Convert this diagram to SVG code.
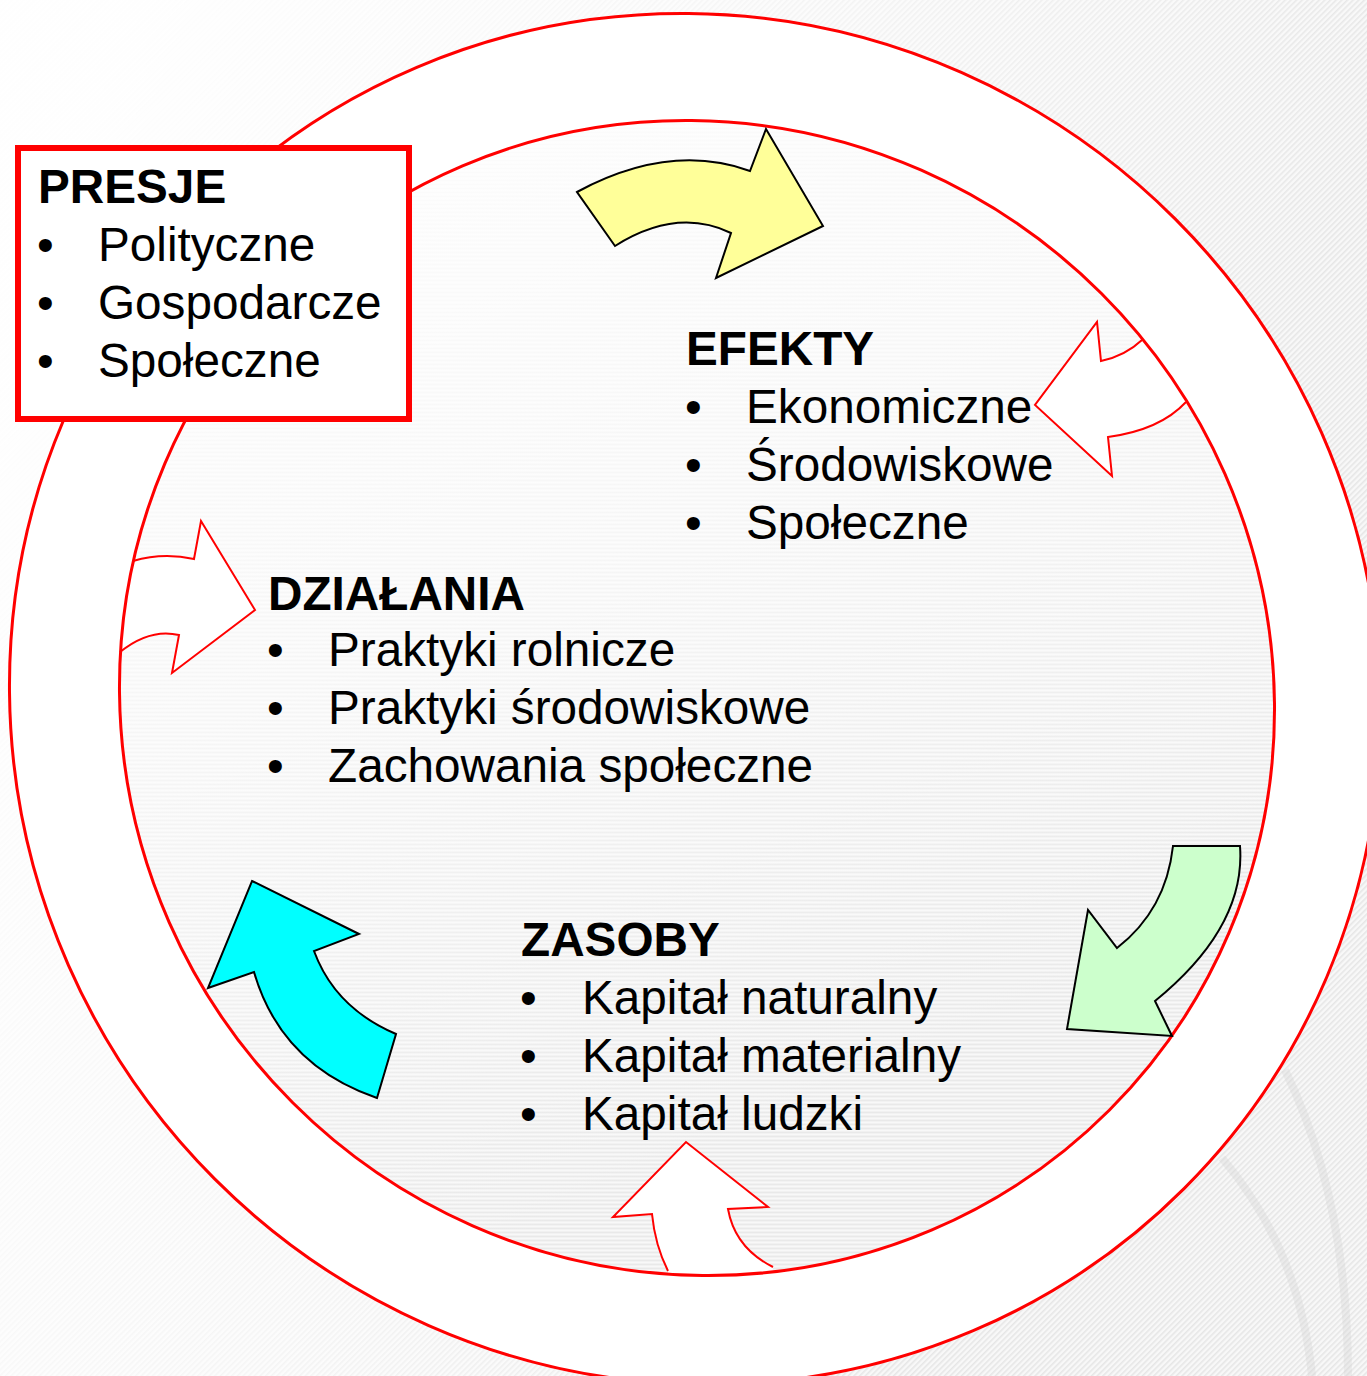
<svg xmlns="http://www.w3.org/2000/svg" width="1367" height="1376" viewBox="0 0 1367 1376">
<defs>
<pattern id="hatch" width="4" height="4" patternUnits="userSpaceOnUse" patternTransform="rotate(-45)">
<rect width="4" height="4" fill="#f8f8f8"/>
<rect width="4" height="1.6" fill="#e6e6e6"/>
</pattern>
<linearGradient id="fade" gradientUnits="userSpaceOnUse" x1="0" y1="300" x2="1150" y2="750">
<stop offset="0" stop-color="#ffffff" stop-opacity="0.97"/>
<stop offset="0.5" stop-color="#ffffff" stop-opacity="0.6"/>
<stop offset="1" stop-color="#ffffff" stop-opacity="0"/>
</linearGradient>
<style>
.ring{fill:#ffffff;stroke:#ff0000;stroke-width:3}
.wa{fill:#ffffff;stroke:none}
.wl{fill:none;stroke:#ff0000;stroke-width:2}
.ca{stroke:#000000;stroke-width:2;stroke-linejoin:miter}
.t{font-family:"Liberation Sans",Arial,sans-serif;font-size:47.7px;fill:#000000}
.h{font-weight:bold}
</style>
</defs>
<rect width="1367" height="1376" fill="url(#hatch)"/>
<rect width="1367" height="1376" fill="url(#fade)"/>
<g opacity="0.3" fill="none" stroke="#d0d0d0" stroke-width="8">
<path d="M1285,1070 Q1348,1200 1348,1376"/>
<path d="M1222,1158 Q1300,1250 1312,1376"/>
</g>
<g id="outer-ring">
<ellipse class="ring" cx="695" cy="699" rx="692" ry="679" transform="rotate(45 695 699)"/>
<ellipse cx="697" cy="698" rx="583" ry="572" transform="rotate(45 697 698)" fill="url(#hatch)"/>
<ellipse cx="697" cy="698" rx="583" ry="572" transform="rotate(45 697 698)" fill="url(#fade)"/>
</g>
<g id="connectors">
<g id="arrow-efekty-out">
<path class="wa" d="M1142,340 Q1125,356 1101,361 L1097,322 L1035,405 L1112,476 L1108,437 Q1160,430 1186,402 L1230,380 L1180,310 Z"/>
<path class="wl" d="M1142,340 Q1125,356 1101,361 L1097,322 L1035,405 L1112,476 L1108,437 Q1160,430 1186,402"/>
</g>
<g id="arrow-dzialania-in">
<path class="wa" d="M133,561 Q163,552 194,559 L201,521 L255,610 L172,673 L179,635 Q150,628 120,652 L80,650 L90,560 Z"/>
<path class="wl" d="M133,561 Q163,552 194,559 L201,521 L255,610 L172,673 L179,635 Q150,628 120,652"/>
</g>
<g id="arrow-zasoby-in">
<path class="wa" d="M668,1271 Q655,1245 652,1214 L613,1217 L686,1142 L768,1207 L728,1209 Q735,1248 773,1267 L770,1310 L670,1310 Z"/>
<path class="wl" d="M668,1271 Q655,1245 652,1214 L613,1217 L686,1142 L768,1207 L728,1209 Q735,1248 773,1267"/>
</g>
<ellipse cx="697" cy="698" rx="583" ry="572" transform="rotate(45 697 698)" fill="none" stroke="#ff0000" stroke-width="3"/>
<path id="arrow-yellow" class="ca" fill="#ffff99" d="M577,192 Q670,142 750,171 L766,129 L823,226 L716,278 L731,233 Q677,207 615,246 Z"/>
<path id="arrow-green" class="ca" fill="#ccffcc" d="M1173,846 L1240,846 Q1246,927 1155,1001 L1172,1036 L1067,1029 L1088,910 L1117,948 Q1166,910 1173,846 Z"/>
<path id="arrow-cyan" class="ca" fill="#00ffff" d="M252,881 L359,934 L314,951 Q335,1008 396,1034 L377,1098 Q281,1065 254,972 L208,988 Z"/>
</g>
<g id="node-presje">
<rect x="18" y="148" width="391" height="271" fill="#ffffff" stroke="#ff0000" stroke-width="6"/>
<text class="t h" x="38" y="203">PRESJE</text>
<text class="t" x="37" y="261">•</text><text class="t" x="98" y="261">Polityczne</text>
<text class="t" x="37" y="319">•</text><text class="t" x="98" y="319">Gospodarcze</text>
<text class="t" x="37" y="377">•</text><text class="t" x="98" y="377">Społeczne</text>
</g>
<g id="node-efekty">
<text class="t h" x="686" y="365">EFEKTY</text>
<text class="t" x="685" y="423">•</text><text class="t" x="746" y="423">Ekonomiczne</text>
<text class="t" x="685" y="481">•</text><text class="t" x="746" y="481">Środowiskowe</text>
<text class="t" x="685" y="539">•</text><text class="t" x="746" y="539">Społeczne</text>
</g>
<g id="node-dzialania">
<text class="t h" x="268" y="610">DZIAŁANIA</text>
<text class="t" x="267" y="666">•</text><text class="t" x="328" y="666">Praktyki rolnicze</text>
<text class="t" x="267" y="724">•</text><text class="t" x="328" y="724">Praktyki środowiskowe</text>
<text class="t" x="267" y="782">•</text><text class="t" x="328" y="782">Zachowania społeczne</text>
</g>
<g id="node-zasoby">
<text class="t h" x="521" y="956">ZASOBY</text>
<text class="t" x="520" y="1014">•</text><text class="t" x="582" y="1014">Kapitał naturalny</text>
<text class="t" x="520" y="1072">•</text><text class="t" x="582" y="1072">Kapitał materialny</text>
<text class="t" x="520" y="1130">•</text><text class="t" x="582" y="1130">Kapitał ludzki</text>
</g>
</svg>
